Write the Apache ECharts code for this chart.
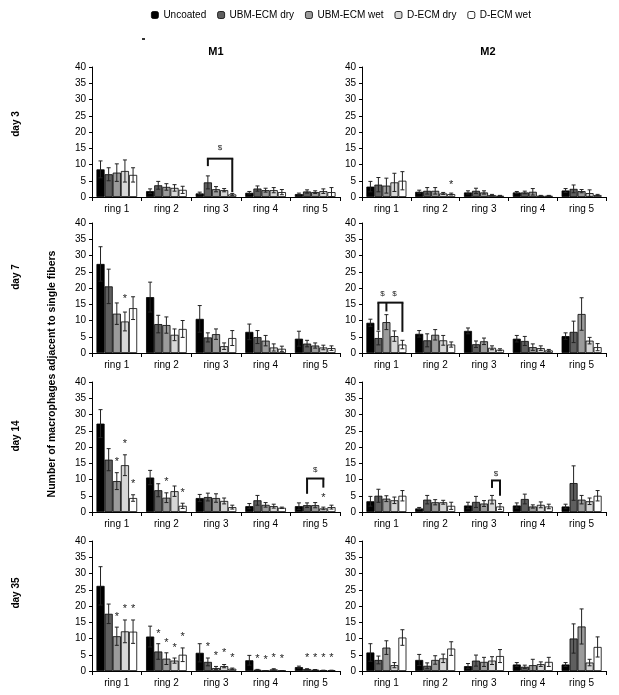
<!DOCTYPE html>
<html><head><meta charset="utf-8">
<script src="https://cdn.jsdelivr.net/npm/echarts@6/dist/echarts.min.js"></script>
<style>html,body{margin:0;padding:0;background:#fff}#c{width:619px;height:695px}</style>
</head><body><div id="c"></div>
<script>
// ---------------- DATA ----------------
const groups = ['Uncoated', 'UBM-ECM dry', 'UBM-ECM wet', 'D-ECM dry', 'D-ECM wet'];
const rings = ['ring 1', 'ring 2', 'ring 3', 'ring 4', 'ring 5'];
const days = ['day 3', 'day 7', 'day 14', 'day 35'];
const columns = ['M1', 'M2'];
const yTicks = [0, 5, 10, 15, 20, 25, 30, 35, 40];
const yTitle = 'Number of macrophages adjacent to single fibers';

// rows = groups (Uncoated, UBM dry, UBM wet, D dry, D wet), columns = rings 1..5
const m1_d3_mean = [[8.5,1.8,1.1,1.3,0.9],[7.0,3.6,4.5,2.6,1.7],[7.5,3.1,2.4,2.1,1.5],[8.0,2.8,2.1,2.1,1.8],[6.8,2.2,0.8,1.5,1.5]];
const m1_d3_sd   = [[2.6,0.7,0.4,0.4,0.3],[2.0,1.2,2.0,0.8,0.5],[2.7,1.0,0.8,0.6,0.4],[3.4,1.0,0.5,0.8,0.7],[2.2,1.1,0.3,0.8,1.4]];
const m2_d3_mean = [[3.2,1.6,1.4,1.4,2.0],[3.8,1.9,1.9,1.4,2.5],[3.5,1.9,1.4,1.6,1.8],[4.5,1.1,0.6,0.4,1.2],[5.0,0.9,0.4,0.4,0.6]];
const m2_d3_sd   = [[1.6,0.5,0.5,0.3,0.6],[2.2,1.0,0.8,0.4,1.2],[2.3,1.0,0.5,1.0,0.5],[2.8,0.3,0.2,0.1,1.0],[2.8,0.3,0.1,0.1,0.2]];
const m1_d7_mean = [[27.4,17.2,10.5,6.5,4.4],[20.5,8.9,4.8,4.9,2.9],[12.1,8.6,5.8,3.8,2.3],[9.7,5.6,2.1,1.7,1.7],[13.8,7.4,4.6,1.3,1.5]];
const m1_d7_sd   = [[5.3,4.6,4.1,2.4,2.3],[5.3,2.7,1.4,2.0,1.0],[3.3,2.5,1.6,1.6,0.8],[2.9,1.8,1.0,1.1,0.7],[3.5,2.6,2.3,0.8,0.7]];
const m2_d7_mean = [[9.3,5.9,6.8,4.4,5.2],[4.6,3.9,2.7,3.7,6.5],[9.5,5.6,3.6,1.8,12.0],[5.2,3.9,1.6,1.5,3.8],[2.6,2.6,1.0,0.8,1.8]];
const m2_d7_sd   = [[1.1,1.0,0.9,1.0,1.0],[2.1,2.0,1.0,1.4,3.3],[2.3,1.6,1.0,1.0,5.0],[1.6,1.5,0.6,0.7,1.0],[1.3,0.8,0.3,0.3,1.1]];
const m1_d14_mean = [[27.2,10.6,4.3,1.8,1.8],[16.1,6.7,4.6,3.6,2.1],[9.5,4.4,4.3,2.2,2.1],[14.4,6.4,3.4,1.8,1.1],[4.3,1.9,1.5,1.3,1.5]];
const m1_d14_sd   = [[4.3,2.2,1.1,0.8,1.0],[3.4,2.0,1.2,1.5,0.7],[2.6,1.5,1.3,0.7,0.8],[3.2,1.6,0.9,0.6,0.4],[1.0,0.8,0.6,0.2,0.6]];
const m2_d14_mean = [[3.3,1.1,2.0,2.0,1.7],[5.0,3.8,3.1,4.0,8.9],[4.1,3.0,2.6,1.7,3.8],[3.6,3.0,3.8,2.2,3.3],[5.0,1.9,1.7,1.7,5.0]];
const m2_d14_sd   = [[1.5,0.3,1.0,0.8,0.7],[2.0,1.3,1.7,1.5,5.3],[0.9,0.8,0.9,0.5,1.3],[1.0,0.6,1.3,0.9,1.0],[1.6,1.1,0.9,0.7,1.6]];
const m1_d35_mean = [[26.2,10.6,5.6,3.3,1.2],[17.6,6.0,2.8,0.4,0.6],[10.7,3.8,0.9,0.1,0.4],[12.2,3.2,1.5,0.5,0.2],[12.1,5.0,0.7,0.1,0.2]];
const m1_d35_sd   = [[5.9,3.2,2.8,1.5,0.3],[3.0,2.4,1.2,0.1,0.1],[2.8,1.8,0.5,0.05,0.05],[3.5,0.8,0.5,0.2,0.05],[3.6,2.1,0.2,0.05,0.05]];
const m2_d35_mean = [[5.7,3.4,1.5,2.0,2.0],[3.4,1.6,3.2,1.3,10.0],[7.2,3.4,2.8,1.8,13.7],[1.8,3.9,3.2,2.1,2.6],[10.3,6.9,4.6,2.8,7.4]];
const m2_d35_sd   = [[2.7,1.7,0.8,0.6,0.6],[1.2,0.9,1.7,0.5,4.5],[2.1,1.3,1.4,1.8,5.4],[0.8,1.3,1.2,0.7,1.0],[2.4,2.1,2.0,1.4,3.1]];

// significance marks: [ring index, bar position (group index, may be fractional), y value, text]
const m1_d3_marks = [[2, 2.5, 15.0, '$']];
const m2_d3_marks = [[1, 4, 4.6, '*']];
const m1_d7_marks = [[0, 3, 17.4, '*']];
const m2_d7_marks = [[0, 1.5, 18.3, '$'], [0, 3, 18.3, '$']];
const m1_d14_marks = [[0, 2, 16.4, '*'], [0, 3, 22.0, '*'], [0, 4, 9.5, '*'], [1, 2, 10.3, '*'], [1, 4, 6.7, '*'], [4, 2, 13.0, '$'], [4, 3, 5.1, '*']];
const m2_d14_marks = [[2, 3.5, 11.9, '$']];
const m1_d35_marks = [[0, 2, 17.6, '*'], [0, 3, 19.9, '*'], [0, 4, 19.9, '*'],
  [1, 1, 12.4, '*'], [1, 2, 9.7, '*'], [1, 3, 8.1, '*'], [1, 4, 11.4, '*'],
  [2, 1, 8.2, '*'], [2, 2, 5.4, '*'], [2, 3, 6.4, '*'], [2, 4, 5.0, '*'],
  [3, 1, 4.6, '*'], [3, 2, 4.4, '*'], [3, 3, 5.0, '*'], [3, 4, 4.6, '*'],
  [4, 1, 4.8, '*'], [4, 2, 4.8, '*'], [4, 3, 4.8, '*'], [4, 4, 4.8, '*']];
const m2_d35_marks = [];

// brackets: [ring index, top y value, [[bar position, leg end y value], ...]]
const m1_d3_brackets = [[2, 11.8, [[1, 9.5], [4, 1.5]]]];
const m2_d3_brackets = [];
const m1_d7_brackets = [];
const m2_d7_brackets = [[0, 15.5, [[1, 7.0], [2, 12.8], [4, 6.5]]]];
const m1_d14_brackets = [[4, 10.3, [[1, 5.6], [3, 7.5]]]];
const m2_d14_brackets = [[2, 9.7, [[3, 7.4], [4, 5.0]]]];
const m1_d35_brackets = [];
const m2_d35_brackets = [];

// ---------------- LAYOUT / STYLE ----------------
const panels = [
  [m1_d3_mean, m1_d3_sd, m1_d3_marks, m1_d3_brackets], [m2_d3_mean, m2_d3_sd, m2_d3_marks, m2_d3_brackets],
  [m1_d7_mean, m1_d7_sd, m1_d7_marks, m1_d7_brackets], [m2_d7_mean, m2_d7_sd, m2_d7_marks, m2_d7_brackets],
  [m1_d14_mean, m1_d14_sd, m1_d14_marks, m1_d14_brackets], [m2_d14_mean, m2_d14_sd, m2_d14_marks, m2_d14_brackets],
  [m1_d35_mean, m1_d35_sd, m1_d35_marks, m1_d35_brackets], [m2_d35_mean, m2_d35_sd, m2_d35_marks, m2_d35_brackets]
];
const colors = ['#000000', '#5f5f5f', '#9b9b9b', '#d6d6d6', '#ffffff'];
const FONT = '"Liberation Sans", Arial, sans-serif';
const colLeft = [92, 362], colWidth = [248, 244];
const rowTop = [67, 223, 382, 541], rowH = 130;
const dayLabelY = [124, 277, 436, 593];
const GAP = 0.18;

function barX(api, ring, gpos) {
  const c = api.coord([ring, 0]);
  const catW = api.size([1, 0])[0];
  const gw = catW * (1 - GAP);
  const bw = gw / groups.length;
  return c[0] - gw / 2 + bw * (gpos + 0.5);
}

const grid = [], xAxis = [], yAxis = [], series = [];
panels.forEach((pd, p) => {
  const row = Math.floor(p / 2), col = p % 2;
  const [mean, sd, marks, brackets] = pd;
  grid.push({ left: colLeft[col], top: rowTop[row], width: colWidth[col], height: rowH, containLabel: false });
  xAxis.push({
    gridIndex: p, type: 'category', data: rings,
    axisLine: { lineStyle: { color: '#000', width: 1 } },
    axisTick: { show: true, length: 4, lineStyle: { color: '#000' } },
    axisLabel: { fontSize: 10, color: '#000', margin: 7, fontFamily: FONT }
  });
  yAxis.push({
    gridIndex: p, type: 'value', min: yTicks[0], max: yTicks[yTicks.length - 1], interval: yTicks[1] - yTicks[0],
    axisLine: { show: true, lineStyle: { color: '#000', width: 1 } },
    axisTick: { show: true, length: 3, lineStyle: { color: '#000' } },
    axisLabel: { fontSize: 10, color: '#000', margin: 6, fontFamily: FONT },
    splitLine: { show: false }
  });
  groups.forEach((g, gi) => {
    series.push({
      type: 'bar', name: g, xAxisIndex: p, yAxisIndex: p, data: mean[gi],
      barGap: '0%', barCategoryGap: (GAP * 100) + '%',
      itemStyle: { color: colors[gi], borderColor: '#000', borderWidth: 0.8 },
      silent: true
    });
  });
  // error bars
  const errData = [];
  groups.forEach((g, gi) => rings.forEach((r, ri) => {
    errData.push([ri, gi, Math.max(0, mean[gi][ri] - sd[gi][ri]), mean[gi][ri] + sd[gi][ri]]);
  }));
  series.push({
    type: 'custom', xAxisIndex: p, yAxisIndex: p, data: errData, silent: true, z: 5,
    encode: { x: 0, y: [2, 3] },
    renderItem: (params, api) => {
      const x = barX(api, api.value(0), api.value(1));
      const yl = api.coord([api.value(0), api.value(2)])[1];
      const yh = api.coord([api.value(0), api.value(3)])[1];
      const cw = 2;
      const st = { stroke: '#222', lineWidth: 1 };
      return { type: 'group', children: [
        { type: 'line', shape: { x1: x, y1: yl, x2: x, y2: yh }, style: st },
        { type: 'line', shape: { x1: x - cw, y1: yh, x2: x + cw, y2: yh }, style: st },
        { type: 'line', shape: { x1: x - cw, y1: yl, x2: x + cw, y2: yl }, style: st }
      ] };
    }
  });
  // significance marks
  if (marks.length) series.push({
    type: 'custom', xAxisIndex: p, yAxisIndex: p, silent: true, z: 6,
    data: marks.map(m => [m[0], m[1], m[2]]),
    encode: { x: 0, y: 2 },
    renderItem: (params, api) => {
      const m = marks[params.dataIndex];
      const x = barX(api, m[0], m[1]);
      const y = api.coord([m[0], m[2]])[1];
      const isStar = m[3] === '*';
      return { type: 'text', x: x, y: y + (isStar ? 3 : 0), style: {
        text: m[3], textAlign: 'center', textVerticalAlign: 'middle',
        font: (isStar ? '11px ' : '8px ') + FONT, fill: '#222' } };
    }
  });
  // brackets
  if (brackets.length) series.push({
    type: 'custom', xAxisIndex: p, yAxisIndex: p, silent: true, z: 6,
    data: brackets.map(b => [b[0], b[1]]),
    encode: { x: 0, y: 1 },
    renderItem: (params, api) => {
      const b = brackets[params.dataIndex];
      const yt = api.coord([b[0], b[1]])[1];
      const legs = b[2];
      const xs = legs.map(l => barX(api, b[0], l[0]));
      const st = { stroke: '#111', lineWidth: 2 };
      const ch = [{ type: 'line', shape: { x1: xs[0] - 1, y1: yt, x2: xs[xs.length - 1] + 1, y2: yt }, style: st }];
      legs.forEach((l, i) => {
        ch.push({ type: 'line', shape: { x1: xs[i], y1: yt, x2: xs[i], y2: api.coord([b[0], l[1]])[1] }, style: st });
      });
      return { type: 'group', children: ch };
    }
  });
});

const graphic = [];
days.forEach((d, i) => {
  graphic.push({ type: 'text', x: 16, y: dayLabelY[i], rotation: Math.PI / 2,
    style: { text: d, textAlign: 'center', textVerticalAlign: 'middle', font: 'bold 10px ' + FONT, fill: '#000' } });
});
graphic.push({ type: 'text', x: 52, y: 374, rotation: Math.PI / 2,
  style: { text: yTitle, textAlign: 'center', textVerticalAlign: 'middle', font: 'bold 10.5px ' + FONT, fill: '#000' } });
columns.forEach((c, i) => {
  graphic.push({ type: 'text', x: colLeft[i] + colWidth[i] / 2 + (i === 0 ? 0 : 4), y: 52,
    style: { text: c, textAlign: 'center', textVerticalAlign: 'middle', font: 'bold 11px ' + FONT, fill: '#000' } });
});
graphic.push({ type: 'rect', shape: { x: 142, y: 38, width: 3, height: 2 }, style: { fill: '#333' } });

const chart = echarts.init(document.getElementById('c'), null, { renderer: 'canvas' });
chart.setOption({
  animation: false,
  backgroundColor: '#fff',
  textStyle: { fontFamily: FONT },
  legend: {
    data: groups, left: 146, top: 5, itemWidth: 7, itemHeight: 7, itemGap: 11,
    textStyle: { fontSize: 10, color: '#000', fontFamily: FONT },
    itemStyle: { borderColor: '#000', borderWidth: 0.8 }
  },
  grid, xAxis, yAxis, series, graphic
});
</script></body></html>
